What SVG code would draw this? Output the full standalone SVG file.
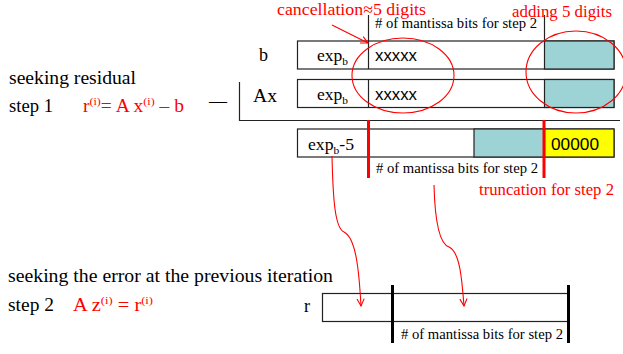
<svg xmlns="http://www.w3.org/2000/svg" width="623" height="354" viewBox="0 0 623 354">
<defs>
<style>
.t{font-family:"Liberation Serif","Times New Roman",serif;fill:#000}
.r{fill:#ff0000}
.a{font-family:"Liberation Sans",Arial,sans-serif;fill:#000}
.box{fill:#fff;stroke:#222;stroke-width:1.2}
.teal{fill:#9dd3d4;stroke:#222;stroke-width:1.2}
.yel{fill:#ffff00;stroke:#222;stroke-width:1.2}
.thin{stroke:#222;stroke-width:1.2;fill:none}
.redbar{stroke:#ff0000;stroke-width:3}
.blkbar{stroke:#000;stroke-width:3}
.rl{stroke:#ff0000;stroke-width:1.1;fill:none}
</style>
<marker id="ah" viewBox="0 0 10 10" refX="9" refY="5" markerWidth="9" markerHeight="9" orient="auto" markerUnits="userSpaceOnUse">
<path d="M1,1 L9,5 L1,9" fill="none" stroke="#ff0000" stroke-width="1.2"/>
</marker>
</defs>
<rect width="623" height="354" fill="#fff"/>

<g id="labels-left">
<text class="t" x="9" y="84" font-size="18" textLength="127" lengthAdjust="spacingAndGlyphs">seeking residual</text>
<text class="t" x="9" y="112" font-size="18" textLength="44" lengthAdjust="spacingAndGlyphs">step 1</text>
<text class="t r" x="83" y="112" font-size="18" textLength="101" lengthAdjust="spacingAndGlyphs">r<tspan font-size="11" dy="-7">(i)</tspan><tspan dy="7">= A x</tspan><tspan font-size="11" dy="-7">(i)</tspan><tspan dy="7"> – b</tspan></text>
<text class="t" x="8" y="282" font-size="18" textLength="325" lengthAdjust="spacingAndGlyphs">seeking the error at the previous iteration</text>
<text class="t" x="8" y="311" font-size="18" textLength="46" lengthAdjust="spacingAndGlyphs">step 2</text>
<text class="t r" x="73" y="311" font-size="18" textLength="80" lengthAdjust="spacingAndGlyphs">A z<tspan font-size="11" dy="-7">(i)</tspan><tspan dy="7">  = r</tspan><tspan font-size="11" dy="-7">(i)</tspan></text>
</g>

<g id="header-top">
<line class="thin" x1="368.5" y1="15" x2="368.5" y2="41"/>
<line class="thin" x1="544.5" y1="15" x2="544.5" y2="41"/>
<text class="t" x="375" y="28" font-size="14" textLength="162" lengthAdjust="spacingAndGlyphs">#&#160;of mantissa bits for step 2</text>
<text class="t r" x="277" y="15" font-size="17" textLength="149" lengthAdjust="spacingAndGlyphs">cancellation≈5 digits</text>
<text class="t r" x="512" y="17" font-size="17" textLength="100" lengthAdjust="spacingAndGlyphs">adding 5 digits</text>
</g>

<g id="row-b">
<text class="t" x="259" y="61" font-size="18">b</text>
<rect class="box" x="297.5" y="41" width="316.5" height="28"/>
<rect class="teal" x="544.5" y="41" width="69.5" height="28"/>
<line class="thin" x1="368.5" y1="41" x2="368.5" y2="69"/>
<text class="t" x="317" y="61" font-size="17" textLength="31" lengthAdjust="spacingAndGlyphs">exp<tspan font-size="11" dy="4">b</tspan></text>
<text class="a" x="375" y="61" font-size="17" textLength="42" lengthAdjust="spacingAndGlyphs">xxxxx</text>
</g>

<g id="row-ax">
<text class="t" x="253" y="102" font-size="18" textLength="24" lengthAdjust="spacingAndGlyphs">Ax</text>
<rect class="box" x="297.5" y="79.5" width="316.5" height="28"/>
<rect class="teal" x="544.5" y="79.5" width="69.5" height="28"/>
<line class="thin" x1="368.5" y1="79.5" x2="368.5" y2="107.5"/>
<text class="t" x="317" y="100" font-size="17" textLength="31" lengthAdjust="spacingAndGlyphs">exp<tspan font-size="11" dy="4">b</tspan></text>
<text class="a" x="375" y="100" font-size="17" textLength="42" lengthAdjust="spacingAndGlyphs">xxxxx</text>
</g>

<g id="minus-bracket">
<text class="t" x="209" y="107" font-size="18" textLength="18" lengthAdjust="spacingAndGlyphs">—</text>
<polyline class="thin" points="239.5,82 239.5,120.5 620,120.5"/>
</g>

<g id="row-result">
<rect class="box" x="297.5" y="129" width="316.5" height="28"/>
<rect class="teal" x="474" y="129" width="70.5" height="28"/>
<rect class="yel" x="544.5" y="129" width="69.5" height="28"/>
<text class="t" x="308" y="150" font-size="17" textLength="46" lengthAdjust="spacingAndGlyphs">exp<tspan font-size="11" dy="4">b</tspan><tspan dy="-4">-5</tspan></text>
<text class="a" x="551" y="150" font-size="17" textLength="48" lengthAdjust="spacingAndGlyphs">00000</text>
<line class="redbar" x1="368.5" y1="120" x2="368.5" y2="178"/>
<line class="redbar" x1="544" y1="120" x2="544" y2="178"/>
<text class="t" x="376" y="173" font-size="14" textLength="162" lengthAdjust="spacingAndGlyphs">#&#160;of mantissa bits for step 2</text>
<text class="t r" x="479" y="195" font-size="17" textLength="135" lengthAdjust="spacingAndGlyphs">truncation for step 2</text>
</g>

<g id="row-r">
<text class="t" x="304" y="312" font-size="18">r</text>
<rect class="box" x="322.5" y="293.5" width="246" height="28"/>
<line class="blkbar" x1="392.5" y1="285" x2="392.5" y2="343"/>
<line class="blkbar" x1="568.5" y1="285" x2="568.5" y2="343"/>
<text class="t" x="401" y="339" font-size="14" textLength="162" lengthAdjust="spacingAndGlyphs">#&#160;of mantissa bits for step 2</text>
</g>

<g id="connectors">
<line class="rl" x1="332" y1="25" x2="368" y2="43" marker-end="url(#ah)"/>
<ellipse class="rl" cx="403" cy="75.5" rx="51" ry="37.5"/>
<ellipse class="rl" cx="576" cy="72" rx="50" ry="41"/>
<path class="rl" d="M332,156 C333,200 335,228 344,232 C356,238 359,270 361,306" marker-end="url(#ah)"/>
<path class="rl" d="M434,185 C435,225 440,244 449,247 C460,252 462,280 464,306" marker-end="url(#ah)"/>
</g>
</svg>
